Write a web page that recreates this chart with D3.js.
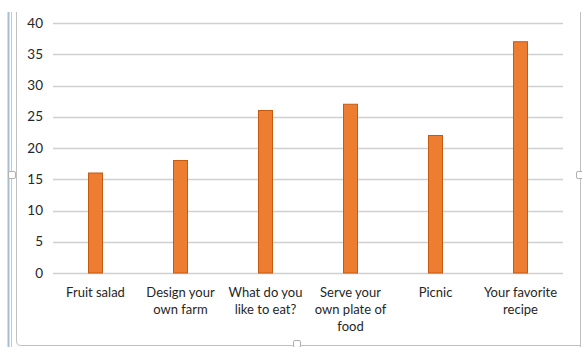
<!DOCTYPE html>
<html>
<head>
<meta charset="utf-8">
<script src="https://cdn.jsdelivr.net/npm/d3@7"></script>
<style>
  body { margin: 0; background: #fff; }
  text { font-family: Lato, "Open Sans", sans-serif; fill: #262626; }
</style>
</head>
<body>
<script>
// data
var categories = [
  ['Fruit salad'],
  ['Design your', 'own farm'],
  ['What do you', 'like to eat?'],
  ['Serve your', 'own plate of', 'food'],
  ['Picnic'],
  ['Your favorite', 'recipe']
];
var values = [16, 18, 26, 27, 22, 37];
var yTicks = [0, 5, 10, 15, 20, 25, 30, 35, 40];

// plot box (note: "top" is taken by window.top, so use plot* names)
var width = 582, height = 347;
var plotLeft = 53, plotRight = 563, plotTop = 23, plotBottom = 273;

var svg = d3.select('body').append('svg')
    .attr('width', width)
    .attr('height', height);

// frame bits (window edge + chart border + handles)
var frame = svg.append('g');
frame.append('line')
    .attr('x1', 8.5).attr('x2', 8.5).attr('y1', 12).attr('y2', 347)
    .attr('stroke', '#a9bdd2').attr('stroke-width', 2);
frame.append('line')
    .attr('x1', 11.5).attr('x2', 11.5).attr('y1', 12).attr('y2', 347)
    .attr('stroke', '#c8c8c8');
frame.append('path')
    .attr('d', 'M 16.5 12 L 16.5 341 Q 16.5 345.5 21 345.5 L 580.5 345.5')
    .attr('fill', 'none').attr('stroke', '#c0c0c0');
frame.append('line')
    .attr('x1', 580.5).attr('x2', 580.5).attr('y1', 12).attr('y2', 347)
    .attr('stroke', '#c0c0c0');
[[12, 175], [297, 344], [580, 175]].forEach(function(h) {
  frame.append('rect')
      .attr('x', h[0] - 3.5).attr('y', h[1] - 3.5)
      .attr('width', 7).attr('height', 7).attr('rx', 1.5)
      .attr('fill', '#fff').attr('stroke', '#b0b0b0');
});

var x = d3.scaleBand()
    .domain(d3.range(categories.length))
    .range([plotLeft, plotRight]);

var y = d3.scaleLinear()
    .domain([0, 40])
    .range([plotBottom, plotTop]);

// gridlines
svg.append('g')
  .selectAll('line')
  .data(yTicks)
  .join('line')
    .attr('x1', plotLeft).attr('x2', plotRight)
    .attr('y1', function(d) { return Math.round(y(d)) + 0.5; })
    .attr('y2', function(d) { return Math.round(y(d)) + 0.5; })
    .attr('stroke', '#d0d0d0')
    .attr('stroke-width', 1.5);

// y axis labels
svg.append('g')
  .selectAll('text')
  .data(yTicks)
  .join('text')
    .attr('x', 43)
    .attr('y', function(d) { return y(d); })
    .attr('dy', '0.35em')
    .attr('text-anchor', 'end')
    .style('font-size', '13.5px')
    .text(function(d) { return d; });

// bars
var barW = 14;
svg.append('g')
  .selectAll('rect')
  .data(values)
  .join('rect')
    .attr('x', function(d, i) { return x(i) + x.bandwidth() / 2 - barW / 2; })
    .attr('y', function(d) { return y(d); })
    .attr('width', barW)
    .attr('height', function(d) { return y(0) - y(d); })
    .attr('fill', '#ed7d31')
    .attr('stroke', '#c55a11')
    .attr('stroke-width', 1);

// category labels
var labels = svg.append('g')
  .selectAll('text')
  .data(categories)
  .join('text')
    .attr('text-anchor', 'middle')
    .style('font-size', '13px')
    .attr('transform', function(d, i) {
      return 'translate(' + (x(i) + x.bandwidth() / 2) + ',' + 297 + ')';
    });
labels.selectAll('tspan')
  .data(function(d) { return d; })
  .join('tspan')
    .attr('x', 0)
    .attr('y', function(d, j) { return j * 17; })
    .text(function(d) { return d; });
</script>
</body>
</html>
